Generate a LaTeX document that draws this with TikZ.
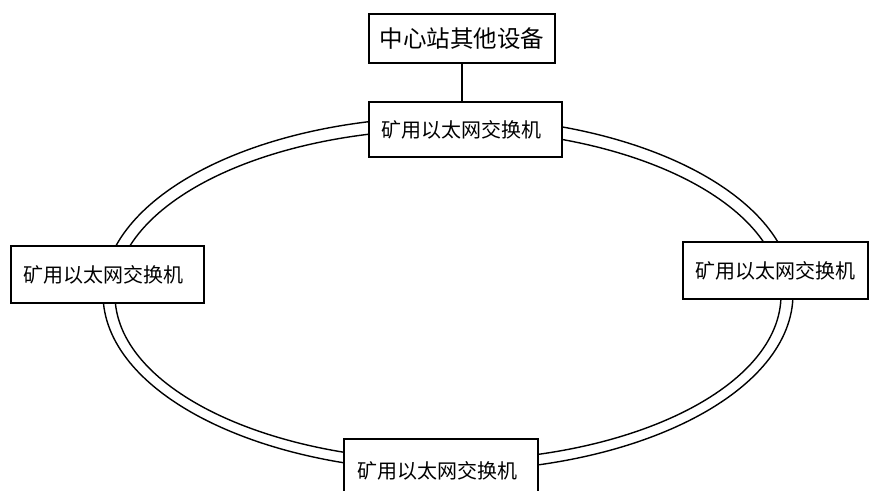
\documentclass[tikz,border=0pt]{standalone}
\usepackage{fontspec}
\newfontfamily\cjk{Noto Sans CJK SC}
\tikzset{
  ring/.style={line width=1.4pt},
  box/.style={draw, line width=1.5pt, fill=white, inner sep=0pt, font=\cjk\fontsize{20}{21}\selectfont},
  link/.style={line width=1.5pt}
}
\begin{document}
\begin{tikzpicture}[x=1pt,y=-1pt]
\useasboundingbox (0,0) rectangle (870,490);
% ring (two concentric ellipses)
\draw[ring] (448,294) ellipse [x radius=345pt, y radius=177pt];
\draw[ring] (448,295) ellipse [x radius=333pt, y radius=165.5pt];
% nodes
\node[box, minimum width=186pt, minimum height=49pt, font=\cjk\fontsize{23.5}{24}\selectfont] (center) at (462,38.5) {中心站其他设备};
\node[box, minimum width=193pt, minimum height=55pt] (swtop) at (465.5,129.5) {\hspace*{-8pt}\raisebox{-4pt}{矿用以太网交换机}};
\node[box, minimum width=193pt, minimum height=57pt] (swleft) at (107.5,274.5) {\hspace*{-8pt}\raisebox{-5pt}{矿用以太网交换机}};
\node[box, minimum width=185pt, minimum height=57pt] (swright) at (775.5,270.5) {\raisebox{-4pt}{矿用以太网交换机}};
\node[box, minimum width=194pt, minimum height=63pt] (swbottom) at (441,470.5) {\hspace*{-8pt}矿用以太网交换机};
% link
\draw[link] (center.south) -- (center.south |- swtop.north);
\end{tikzpicture}
\end{document}
